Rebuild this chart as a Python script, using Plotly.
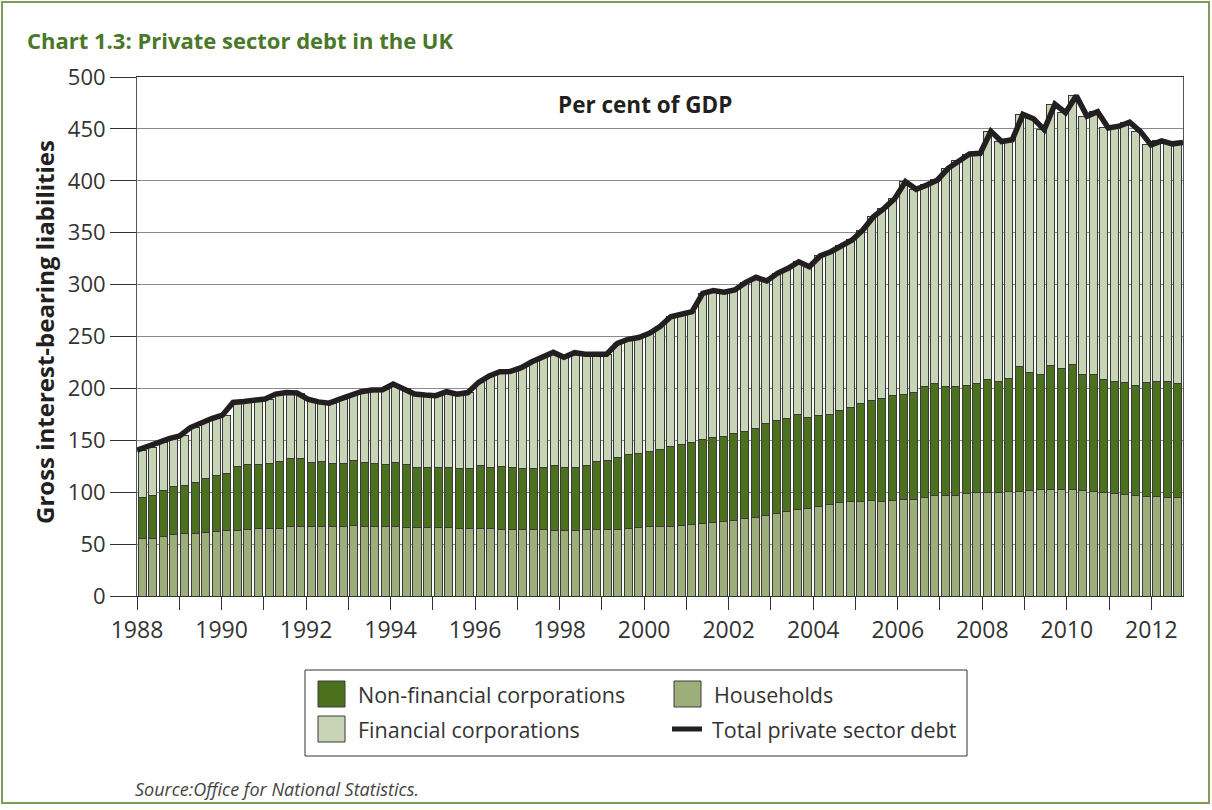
import plotly.graph_objects as go

# quarterly observations, 1988 Q1 - 2012 Q3 (per cent of GDP)
quarters = [f"{y} Q{q}" for y in range(1988, 2013) for q in range(1, 5)][:99]

households = [
    55.2, 55.8, 57.4, 59.4, 60.3, 60.6, 61.3, 62.3,
    63.2, 63.5, 64.2, 65.2, 65.5, 65.5, 66.5, 66.8,
    66.8, 66.5, 66.5, 66.8, 67.7, 67.0, 67.0, 66.8,
    66.5, 66.4, 66.2, 66.0, 65.8, 65.6, 65.4, 65.2,
    65.0, 64.6, 64.4, 64.2, 64.0, 63.8, 63.6, 63.4,
    63.0, 63.0, 63.6, 64.2, 64.2, 64.2, 64.9, 66.2,
    66.8, 66.8, 67.4, 68.0, 69.0, 69.4, 70.6, 71.6,
    72.6, 74.2, 75.8, 78.0, 79.6, 81.2, 82.9, 84.5,
    86.0, 87.7, 89.9, 90.9, 90.9, 91.8, 90.9, 91.8,
    92.5, 93.4, 95.0, 96.7, 96.7, 97.3, 98.3, 99.5,
    99.8, 99.8, 100.4, 101.0, 102.0, 102.7, 103.0, 103.0,
    103.0, 101.7, 101.0, 99.8, 98.8, 97.8, 97.2, 96.2,
    95.5, 95.2, 95.2,
]

non_financial = [
    39.3, 41.2, 44.2, 45.8, 46.2, 49.1, 52.2, 53.8,
    54.5, 61.7, 62.9, 61.9, 62.5, 64.5, 66.1, 65.5,
    61.9, 63.2, 61.2, 61.2, 62.6, 61.4, 60.4, 60.2,
    61.9, 60.6, 58.0, 57.8, 58.0, 58.2, 57.8, 58.0,
    60.5, 59.6, 60.6, 59.3, 58.5, 58.7, 60.6, 62.1,
    60.6, 61.0, 62.0, 65.8, 66.8, 69.4, 71.3, 70.8,
    72.2, 73.9, 76.5, 78.0, 78.7, 81.6, 81.9, 81.9,
    84.1, 84.1, 85.1, 88.5, 89.4, 90.0, 91.5, 87.6,
    87.7, 86.7, 88.6, 90.9, 94.1, 96.4, 99.5, 101.8,
    102.1, 102.5, 106.7, 108.2, 105.0, 104.4, 104.3, 105.0,
    108.9, 107.2, 109.3, 120.0, 113.2, 110.9, 118.7, 115.8,
    119.7, 111.9, 112.0, 108.9, 108.2, 107.9, 105.9, 109.5,
    110.9, 111.2, 109.6,
]

financial = [
    46.1, 46.5, 46.1, 46.4, 47.7, 52.6, 53.5, 54.9,
    56.5, 61.3, 60.3, 60.9, 61.7, 64.5, 63.4, 63.2,
    61.0, 57.3, 58.1, 61.7, 63.3, 68.4, 71.0, 71.7,
    75.8, 73.0, 70.3, 69.8, 69.2, 73.0, 71.3, 72.8,
    80.3, 87.8, 91.0, 92.9, 97.5, 103.2, 105.8, 109.2,
    106.4, 110.4, 107.4, 102.8, 102.0, 109.8, 111.1, 112.0,
    114.0, 118.8, 125.1, 125.4, 126.3, 140.6, 141.7, 139.1,
    138.1, 143.6, 146.1, 137.0, 141.9, 144.5, 147.6, 145.2,
    153.9, 157.3, 159.5, 161.2, 167.6, 177.2, 183.1, 189.4,
    204.6, 195.9, 194.3, 195.9, 210.3, 217.7, 223.2, 222.0,
    239.0, 230.9, 229.8, 243.0, 244.5, 235.7, 252.1, 246.8,
    259.2, 248.7, 253.6, 242.2, 245.6, 250.8, 244.6, 228.9,
    232.1, 229.2, 232.1,
]

total = [
    140.6, 143.5, 147.7, 151.6, 154.2, 162.3, 167.0, 171.0,
    174.2, 186.5, 187.4, 188.0, 189.7, 194.5, 196.0, 195.5,
    189.7, 187.0, 185.8, 189.7, 193.6, 196.8, 198.4, 198.7,
    204.2, 200.0, 194.5, 193.6, 193.0, 196.8, 194.5, 196.0,
    205.8, 212.0, 216.0, 216.4, 220.0, 225.7, 230.0, 234.7,
    230.0, 234.4, 233.0, 232.8, 233.0, 243.4, 247.3, 249.0,
    253.0, 259.5, 269.0, 271.4, 274.0, 291.6, 294.2, 292.6,
    294.8, 301.9, 307.0, 303.5, 310.9, 315.7, 322.0, 317.3,
    327.6, 331.7, 338.0, 343.0, 352.6, 365.4, 373.5, 383.0,
    399.2, 391.8, 396.0, 400.8, 412.0, 419.4, 425.8, 426.5,
    447.7, 437.9, 439.5, 464.0, 459.7, 449.3, 473.8, 465.6,
    481.9, 462.3, 466.6, 450.9, 452.6, 456.5, 447.7, 434.6,
    438.5, 435.6, 436.9,
]

COLORS = {
    "Non-financial corporations": "#4b711e",
    "Households": "#9caf7b",
    "Financial corporations": "#c7d4b6",
    "Total private sector debt": "#231f20",
}

# ── positions on a decimal-year axis ──
x_bar = [int(s[:4]) + (int(s[-1]) - 0.5) / 4 for s in quarters]
n = len(quarters)
x_start, x_end = 1988, 1988 + n / 4
# the source draws the line edge to edge across the plot
x_line = [x_start + i * (x_end - x_start) / (n - 1) for i in range(n)]

W, H = 1212, 810
L, R, T, B = 137, 29, 77, 214
pw, ph = W - L - R, H - T - B


def px(x):
    """page pixel -> paper x"""
    return (x - L) / pw


def py(y):
    """page pixel -> paper y"""
    return (T + ph - y) / ph


FONT = "Open Sans"
OUTLINE = dict(color="#3a3a3a", width=1)

fig = go.Figure()
for name, vals in (("Households", households),
                   ("Non-financial corporations", non_financial),
                   ("Financial corporations", financial)):
    fig.add_trace(go.Bar(x=x_bar, y=vals, name=name, width=0.19,
                         marker=dict(color=COLORS[name], line=OUTLINE)))
fig.add_trace(go.Scatter(x=x_line, y=total, name="Total private sector debt", mode="lines",
                         line=dict(color=COLORS["Total private sector debt"], width=5.5)))

fig.update_layout(
    width=W, height=H,
    margin=dict(l=L, r=R, t=T, b=B),
    barmode="stack",
    paper_bgcolor="white", plot_bgcolor="white",
    font=dict(family=FONT, color="#333333", size=22),
    title=dict(text="<b>Chart 1.3: Private sector debt in the UK</b>",
               x=27 / W, xanchor="left", y=1 - 41 / H, yanchor="middle",
               font=dict(family=FONT, size=22, color="#4a7729")),
    showlegend=False,
)

fig.update_xaxes(
    range=[x_start, x_end], tick0=1988, dtick=2,
    ticks="outside", ticklen=13, tickcolor="#333333", tickwidth=1,
    minor=dict(ticks="outside", ticklen=13, dtick=1, tick0=1988, tickcolor="#333333"),
    showgrid=False, showline=True, linecolor="#333333", linewidth=1, mirror=True,
    tickfont=dict(size=23), zeroline=False,
)
fig.update_yaxes(
    range=[0, 500], tick0=0, dtick=50,
    ticks="outside", ticklen=26, tickcolor="#333333",
    showgrid=True, gridcolor="#8a8a8a", gridwidth=1,
    showline=True, linecolor="#555555", linewidth=1, mirror=True,
    tickfont=dict(size=22), zeroline=False,
)

fig.add_annotation(text="<b>Per cent of GDP</b>", xref="paper", yref="paper",
                   x=px(645), y=py(104), xanchor="center", yanchor="middle", showarrow=False,
                   font=dict(size=22.5, color="#231f20"))
fig.add_annotation(text="<b>Gross interest-bearing liabilities</b>", xref="paper", yref="paper",
                   x=px(44), y=py(332), xanchor="center", yanchor="middle",
                   textangle=-90, showarrow=False,
                   font=dict(size=24, color="#231f20"))
fig.add_annotation(text="<i>Source:Office for National Statistics.</i>", xref="paper", yref="paper",
                   x=px(133), y=py(789), xanchor="left", yanchor="middle", showarrow=False,
                   font=dict(size=18, color="#444444"))

# ── legend box drawn by hand (two columns, large swatches) ──
fig.add_shape(type="rect", xref="paper", yref="paper",
              x0=px(305), x1=px(967), y0=py(756), y1=py(670),
              line=dict(color="#333333", width=1), fillcolor="white")
legend_items = [
    ("Non-financial corporations", 318, 694, "box"),
    ("Households", 674, 694, "box"),
    ("Financial corporations", 318, 729, "box"),
    ("Total private sector debt", 672, 729, "line"),
]
for name, lx, ly, kind in legend_items:
    if kind == "box":
        fig.add_shape(type="rect", xref="paper", yref="paper",
                      x0=px(lx), x1=px(lx + 27), y0=py(ly + 13), y1=py(ly - 13),
                      line=dict(color="#3a3a3a", width=1), fillcolor=COLORS[name])
    else:
        fig.add_shape(type="line", xref="paper", yref="paper",
                      x0=px(lx), x1=px(lx + 30), y0=py(ly), y1=py(ly),
                      line=dict(color=COLORS[name], width=5))
    fig.add_annotation(text=name, xref="paper", yref="paper",
                       x=px(lx + 38), y=py(ly), xanchor="left", yanchor="middle",
                       showarrow=False, font=dict(size=21.5, color="#333333"))

# thin green frame around the whole panel
fig.add_shape(type="rect", xref="paper", yref="paper", layer="above",
              x0=px(2), x1=px(W - 3), y0=py(H - 7), y1=py(2),
              line=dict(color="#7f9a5a", width=2))

# drop the browser's default page margin so the figure fills the window
fig.write_html("out.html", config={"displayModeBar": False},
               post_script="document.body.style.margin='0';")
